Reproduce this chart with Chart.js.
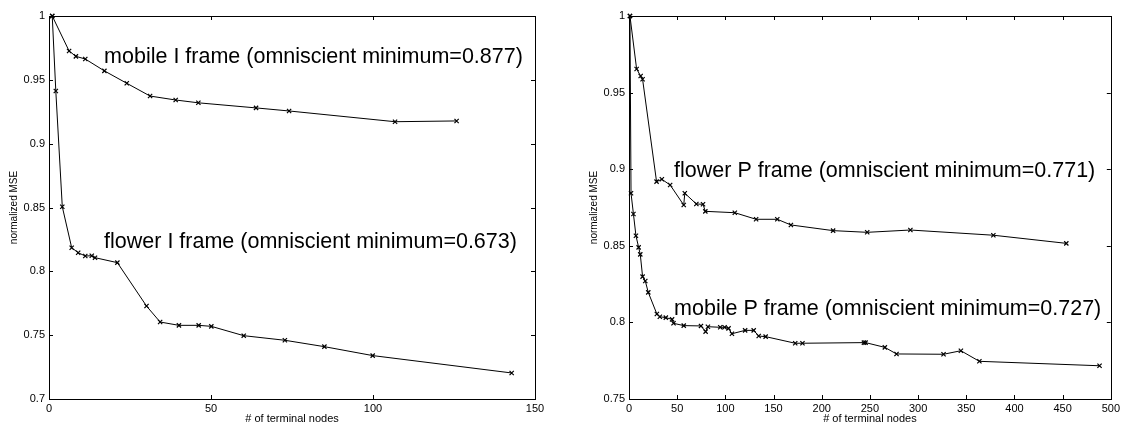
<!DOCTYPE html>
<html><head><meta charset="utf-8">
<script src="https://cdn.jsdelivr.net/npm/chart.js@4.4.1/dist/chart.umd.min.js"></script>
<style>
html,body{margin:0;padding:0;background:#fff;width:1123px;height:427px;overflow:hidden}
canvas{position:absolute;top:0}
#c1{left:0}
#c2{left:560px}
</style></head><body>
<canvas id="c1" width="560" height="427"></canvas>
<canvas id="c2" width="563" height="427"></canvas>
<script>
// ---- data: left panel (I frames)
const mobileIx = [1, 6.2, 8.3, 11.2, 17.1, 24, 31.2, 39.1, 46.1, 63.9, 74.1, 106.8, 125.8];
const mobileIy = [1, 0.9726, 0.9684, 0.9663, 0.957, 0.9473, 0.9373, 0.9342, 0.932, 0.928, 0.9256, 0.9172, 0.9178];
const flowerIx = [1, 2.1, 4.1, 7.0, 9.0, 11.2, 13.2, 14.2, 21.1, 30.1, 34.3, 40.1, 46.2, 50.1, 60.1, 72.8, 85, 99.9, 142.8];
const flowerIy = [1, 0.9413, 0.8506, 0.8185, 0.8146, 0.812, 0.8122, 0.8107, 0.8068, 0.7728, 0.7603, 0.7577, 0.7577, 0.7569, 0.7496, 0.746, 0.741, 0.734, 0.7204];
// ---- data: right panel (P frames)
const flowerPx = [1, 7.9, 12.1, 14.1, 28.6, 34.1, 42.7, 56.8, 57.9, 69.9, 76.8, 79.2, 109.8, 131.9, 153.9, 168, 211.8, 247.2, 292, 378.1, 453.8];
const flowerPy = [1, 0.9654, 0.9608, 0.9587, 0.8919, 0.8934, 0.8897, 0.8766, 0.8843, 0.8773, 0.8771, 0.8725, 0.8716, 0.8673, 0.8673, 0.8636, 0.8599, 0.8588, 0.8603, 0.8569, 0.8516];
const mobilePx = [1, 2.1, 4.6, 7.2, 10, 11.7, 14.1, 16.9, 20, 28.9, 32, 38.2, 44.7, 46.2, 56.8, 74.7, 79.5, 81.9, 94.7, 99.2, 103.3, 106.8, 120.5, 129.4, 134.6, 141.8, 172.5, 180, 243.8, 245.5, 265.5, 277.6, 326.4, 344.4, 363.6, 488.3];
const mobilePy = [1, 0.8843, 0.8708, 0.8566, 0.849, 0.8444, 0.8299, 0.827, 0.8196, 0.8055, 0.8037, 0.8031, 0.802, 0.7994, 0.7979, 0.7977, 0.794, 0.7972, 0.7968, 0.7968, 0.7961, 0.7926, 0.7948, 0.7948, 0.7911, 0.7907, 0.7864, 0.7864, 0.7868, 0.7868, 0.7837, 0.7794, 0.7792, 0.7815, 0.7746, 0.7717];
// ---- labels
const leftLabels = ['mobile I frame (omniscient minimum=0.877)', 'flower I frame (omniscient minimum=0.673)'];
const rightLabels = ['flower P frame (omniscient minimum=0.771)', 'mobile P frame (omniscient minimum=0.727)'];
const xTitle = '# of terminal nodes';
const yTitle = 'normalized MSE';

const FONT = "'Liberation Sans', Arial, sans-serif";

function pts(xs, ys){ return xs.map((x,i)=>({x:x, y:ys[i]})); }

function ds(xs, ys){
  return {data: pts(xs, ys), borderColor:'#000', backgroundColor:'#000', borderWidth:1,
    pointStyle:'crossRot', pointRadius:3, pointBorderWidth:1.2, pointHoverRadius:3,
    tension:0, clip:6};
}

const framePlugin = {
  id:'frame',
  afterDraw(chart){
    const {ctx, chartArea:a, scales:{x, y}} = chart;
    ctx.save();
    ctx.strokeStyle = '#000'; ctx.lineWidth = 1;
    ctx.strokeRect(Math.round(a.left)+0.5, Math.round(a.top)+0.5, Math.round(a.right-a.left), Math.round(a.bottom-a.top));
    const L = 4;
    ctx.beginPath();
    x.ticks.forEach(t=>{
      const px = Math.round(x.getPixelForValue(t.value))+0.5;
      ctx.moveTo(px, a.bottom); ctx.lineTo(px, a.bottom-L);
      ctx.moveTo(px, a.top); ctx.lineTo(px, a.top+L);
    });
    y.ticks.forEach(t=>{
      const py = Math.round(y.getPixelForValue(t.value))+0.5;
      ctx.moveTo(a.left, py); ctx.lineTo(a.left+L, py);
      ctx.moveTo(a.right, py); ctx.lineTo(a.right-L, py);
    });
    ctx.stroke();
    const ann = chart.options.plugins.frame.annotations || [];
    ctx.fillStyle = '#000';
    ctx.font = '21.5px ' + FONT;
    ctx.textAlign = 'left'; ctx.textBaseline = 'alphabetic';
    ann.forEach(an=>{
      ctx.fillText(an.text, x.getPixelForValue(an.x), y.getPixelForValue(an.y));
    });
    ctx.restore();
  }
};

function makeChart(id, datasets, xmax, ymin, padding, annotations){
  return new Chart(document.getElementById(id), {
    type:'line',
    data:{datasets},
    plugins:[framePlugin],
    options:{
      responsive:false, animation:false, devicePixelRatio:1,
      layout:{padding},
      plugins:{legend:{display:false}, tooltip:{enabled:false}, frame:{annotations}},
      scales:{
        x:{type:'linear', min:0, max:xmax,
          ticks:{stepSize:50, color:'#000', font:{family:FONT, size:11}, padding:3, maxRotation:0},
          grid:{display:false, drawTicks:false}, border:{display:false},
          title:{display:true, text:xTitle, color:'#000', font:{family:FONT, size:11}, padding:{top:0, bottom:1}},
          afterFit(s){ s.height = 28; }
        },
        y:{type:'linear', min:ymin, max:1,
          ticks:{stepSize:0.05, color:'#000', font:{family:FONT, size:11}, padding:4,
            callback:(v)=>String(Number(v.toFixed(2)))},
          grid:{display:false, drawTicks:false}, border:{display:false},
          title:{display:true, text:yTitle, color:'#000', font:{family:FONT, size:10}, padding:{top:8, bottom:0}},
          afterFit(s){ s.width = 49; }
        }
      }
    }
  });
}

makeChart('c1', [ds(mobileIx, mobileIy), ds(flowerIx, flowerIy)], 150, 0.7,
  {left:0, right:25, top:16, bottom:0},
  [{text:leftLabels[0], x:17, y:0.963}, {text:leftLabels[1], x:17, y:0.8185}]);

makeChart('c2', [ds(flowerPx, flowerPy), ds(mobilePx, mobilePy)], 500, 0.75,
  {left:20, right:10, top:16, bottom:0},
  [{text:rightLabels[0], x:46.8, y:0.8951}, {text:rightLabels[1], x:46.8, y:0.8048}]);
</script>
</body></html>
